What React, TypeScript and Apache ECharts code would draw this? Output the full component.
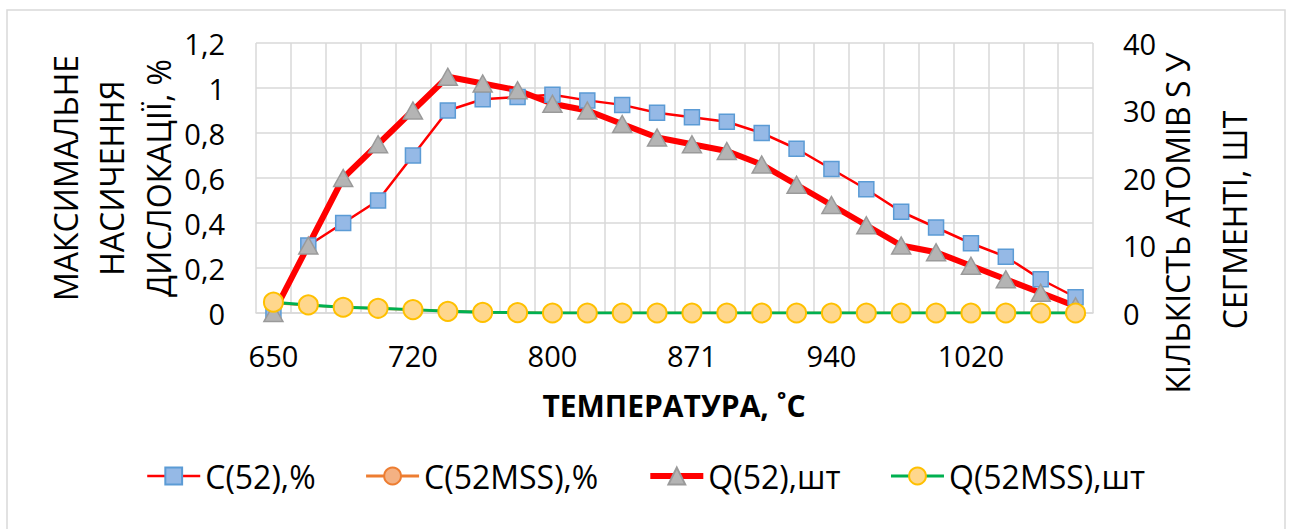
import React, { useEffect, useRef } from 'react';
import * as echarts from 'echarts';

const temperatures = ['650', '668', '685', '703', '720', '740', '760', '780', '800', '818', '836', '853', '871', '888', '905', '923', '940', '960', '980', '1000', '1020', '1040', '1060', '1080'];
const c52 = [0, 0.3, 0.4, 0.5, 0.7, 0.9, 0.95, 0.96, 0.97, 0.945, 0.925, 0.89, 0.87, 0.85, 0.8, 0.73, 0.64, 0.55, 0.45, 0.38, 0.31, 0.25, 0.15, 0.07];
const c52mss = [0.044, 0.034, 0.025, 0.02, 0.014, 0.008, 0.004, 0.002, 0, 0, 0, 0, 0, 0, 0, 0, 0, 0, 0, 0, 0, 0, 0, 0];
const q52 = [0, 10, 20, 25, 30, 35, 34, 33, 31, 30, 28, 26, 25, 24, 22, 19, 16, 13, 10, 9, 7, 5, 3, 1];
const q52mss = [1.6, 1.2, 0.85, 0.7, 0.5, 0.25, 0.1, 0.05, 0, 0, 0, 0, 0, 0, 0, 0, 0, 0, 0, 0, 0, 0, 0, 0];
const seriesNames = ['C(52),%', 'C(52MSS),%', 'Q(52),шт', 'Q(52MSS),шт'];
const leftTitle = ['МАКСИМАЛЬНЕ', 'НАСИЧЕННЯ', 'ДИСЛОКАЦІЇ, %'];
const rightTitle = ['КІЛЬКІСТЬ АТОМІВ S У', 'СЕГМЕНТІ, ШТ'];
const xTitle = 'ТЕМПЕРАТУРА, ˚C';

const FONT = '"Open Sans", "Noto Sans", sans-serif';

export default function App() {
  const ref = useRef<HTMLDivElement>(null);
  useEffect(() => {
    const chart = echarts.init(ref.current as HTMLDivElement, null, { renderer: 'svg' });
    const leftX = [65, 111, 158];
    const rightX = [1177, 1234];
    const rightY = [223, 220];
    const graphics: any[] = [
      {
        type: 'rect',
        shape: { x: 7, y: 10, width: 1278, height: 540 },
        style: { fill: 'none', stroke: '#D9D9D9', lineWidth: 1.5 },
        silent: true,
      },
      ...leftTitle.map((t, i) => ({
        type: 'text',
        x: leftX[i],
        y: 178,
        rotation: Math.PI / 2,
        style: { text: t, fontSize: 32, fontFamily: FONT, fill: '#000', align: 'center', verticalAlign: 'middle' },
      })),
      ...rightTitle.map((t, i) => ({
        type: 'text',
        x: rightX[i],
        y: rightY[i],
        rotation: Math.PI / 2,
        style: { text: t, fontSize: 32, fontFamily: FONT, fill: '#000', align: 'center', verticalAlign: 'middle' },
      })),
      {
        type: 'text',
        x: 674,
        y: 405,
        style: { text: xTitle, fontSize: 30, fontWeight: 'bold', fontFamily: FONT, fill: '#000', align: 'center', verticalAlign: 'middle' },
      },
    ];

    const legendLineWidths = [2.5, 3, 6, 3];

    chart.setOption({
      animation: false,
      backgroundColor: '#fff',
      textStyle: { fontFamily: FONT },
      grid: { left: 256, top: 43, width: 837, height: 270, containLabel: false },
      legend: {
        data: seriesNames.map((n, i) => ({ name: n, lineStyle: { width: legendLineWidths[i] } })),
        left: 'center',
        top: 453,
        itemWidth: 53,
        itemHeight: 21,
        itemGap: 49,
        textStyle: { fontSize: 32, fontFamily: FONT, color: '#000', lineHeight: 36 },
      },
      xAxis: {
        type: 'category',
        data: temperatures,
        boundaryGap: true,
        axisLine: { show: true, lineStyle: { color: '#D9D9D9', width: 1.5 } },
        axisTick: { show: false },
        axisLabel: { interval: 3, fontSize: 29, color: '#000', margin: 28, fontFamily: FONT },
        splitLine: { show: true, interval: 0, lineStyle: { color: '#D9D9D9', width: 1.5 } },
      },
      yAxis: [
        {
          type: 'value',
          min: 0,
          max: 1.2,
          interval: 0.2,
          position: 'left',
          axisLine: { show: false },
          axisTick: { show: false },
          axisLabel: {
            fontSize: 29,
            color: '#000',
            margin: 31,
            fontFamily: FONT,
            formatter: (v: number) => String(Math.round(v * 10) / 10).replace('.', ','),
          },
          splitLine: { show: true, lineStyle: { color: '#D9D9D9', width: 1.5 } },
        },
        {
          type: 'value',
          min: 0,
          max: 40,
          interval: 10,
          position: 'right',
          axisLine: { show: false },
          axisTick: { show: false },
          axisLabel: { fontSize: 29, color: '#000', margin: 30, fontFamily: FONT },
          splitLine: { show: false },
        },
      ],
      series: [
        {
          name: seriesNames[0],
          type: 'line',
          yAxisIndex: 0,
          data: c52,
          symbol: 'rect',
          symbolSize: 15,
          lineStyle: { color: '#FF0000', width: 2.5 },
          itemStyle: { color: '#95B9E6', borderColor: '#5B9BD5', borderWidth: 1.5 },
        },
        {
          name: seriesNames[1],
          type: 'line',
          yAxisIndex: 0,
          data: c52mss,
          symbol: 'circle',
          symbolSize: 12,
          lineStyle: { color: '#ED7D31', width: 2.5 },
          itemStyle: { color: '#F4B183', borderColor: '#ED7D31', borderWidth: 1.5 },
        },
        {
          name: seriesNames[2],
          type: 'line',
          yAxisIndex: 1,
          data: q52,
          symbol: 'triangle',
          symbolSize: [19, 17],
          lineStyle: { color: '#FF0000', width: 6 },
          itemStyle: { color: '#B4B4B4', borderColor: '#9A9A9A', borderWidth: 1.5 },
        },
        {
          name: seriesNames[3],
          type: 'line',
          yAxisIndex: 1,
          data: q52mss,
          symbol: 'circle',
          symbolSize: 19,
          lineStyle: { color: '#00B050', width: 3 },
          itemStyle: { color: '#FFD78C', borderColor: '#FFC000', borderWidth: 2 },
        },
      ],
      graphic: graphics,
    });
    return () => chart.dispose();
  }, []);
  return <div ref={ref} style={{ position: 'fixed', left: 0, top: 0, width: 1291, height: 529, background: '#fff' }} />;
}
